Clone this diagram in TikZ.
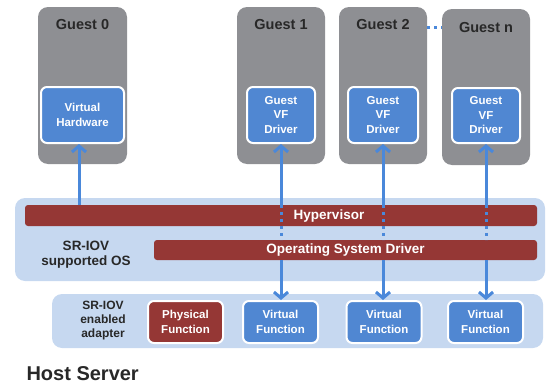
\documentclass[tikz,border=0pt]{standalone}
\usepackage{fontspec}
\setmainfont{Liberation Sans}
\usetikzlibrary{arrows.meta}
\definecolor{guestgray}{RGB}{142,143,147}
\definecolor{boxblue}{RGB}{80,135,210}
\definecolor{barred}{RGB}{149,55,53}
\definecolor{bandblue}{RGB}{198,216,240}
\definecolor{arrblue}{RGB}{74,136,218}
\definecolor{titledark}{RGB}{40,40,40}
\tikzset{
  guestbox/.style={fill=guestgray, draw=none, rounded corners=10pt, minimum width=88pt, minimum height=157pt, inner sep=0pt},
  innerbox/.style={fill=boxblue, draw=white, line width=2pt, rounded corners=6pt, inner sep=0pt, text=white, font=\bfseries\fontsize{11.5}{14.5}\selectfont, align=center},
  fnbox/.style={innerbox, minimum width=75pt, minimum height=42pt},
  band/.style={fill=bandblue, draw=none, rounded corners=10pt, inner sep=0pt},
  bar/.style={fill=barred, draw=none, rounded corners=3pt, inner sep=0pt},
  bartext/.style={text=white, font=\bfseries\fontsize{13.5}{15}\selectfont},
  title/.style={text=titledark, font=\bfseries\fontsize{14.5}{16}\selectfont},
  label/.style={text=titledark, font=\bfseries\fontsize{13.5}{15}\selectfont, align=center},
  conn/.style={draw=arrblue, line width=3pt},
  arrtip/.style={conn, -{Straight Barb[length=6pt,width=14pt]}},
  dotline/.style={draw=arrblue, line width=3pt, dash pattern=on 3pt off 4pt}
}
\begin{document}
\begin{tikzpicture}[x=1pt,y=-1pt]
\useasboundingbox (0,0) rectangle (547,383);
% guests
\node[guestbox, minimum width=89pt] (g0) at (82.5,85.5) {};
\node[guestbox] (g1) at (281,85.5) {};
\node[guestbox] (g2) at (383,85.5) {};
\node[guestbox, minimum height=156pt] (gn) at (486,87) {};
\node[title] (t0) at (82.5,25) {Guest 0};
\node[title] (t1) at (281,25) {Guest 1};
\node[title] (t2) at (383,25) {Guest 2};
\node[title] (tn) at (486,28) {Guest n};
\coordinate (dotA) at (427,27);
\coordinate (dotB) at (442,27);
\draw[dotline] (dotA) -- (dotB);
\node[innerbox, minimum width=83pt, minimum height=56pt] (vh) at (82.5,115) {Virtual\\Hardware};
\node[innerbox, minimum width=68pt, minimum height=56pt] (d1) at (281,115) {Guest\\VF\\Driver};
\node[innerbox, minimum width=70pt, minimum height=56pt] (d2) at (383,115) {Guest\\VF\\Driver};
\node[innerbox, minimum width=68pt, minimum height=55pt] (dn) at (486,115.5) {Guest\\VF\\Driver};
% OS band
\node[band, minimum width=530pt, minimum height=83pt] (osband) at (280,239.5) {};
\node[bar, minimum width=512pt, minimum height=21pt] (hyp) at (281,215.5) {};
\node[bartext] (hyptext) at (329,216) {Hypervisor};
\node[bar, minimum width=383pt, minimum height=20pt] (osd) at (345.5,250) {};
\node[bartext] (osdtext) at (345.5,250) {Operating System Driver};
\node[label] (oslabel) at (86,255) {SR-IOV\\supported OS};
% adapter band
\node[band, minimum width=491pt, minimum height=54pt] (adband) at (297.5,321) {};
\node[label, font=\bfseries\fontsize{12}{14}\selectfont] (adlabel) at (103,321) {SR-IOV\\enabled\\adapter};
\node[fnbox, fill=barred] (pf) at (185.5,322) {Physical\\Function};
\node[fnbox] (vf1) at (280.5,322) {Virtual\\Function};
\node[fnbox] (vf2) at (384,322) {Virtual\\Function};
\node[fnbox] (vf3) at (485.5,322) {Virtual\\Function};
% arrows
\coordinate (a0) at (79,205);
\draw[arrtip] (a0) -- (a0 |- vh.south);
\draw[arrtip] (d1.south |- hyp.north) -- (d1.south);
\draw[dotline] (d1.south |- hyp.north) -- (d1.south |- osd.north);
\draw[arrtip] (d1.south |- osd.south) -- (d1.south |- vf1.north);
\draw[arrtip] (d2.south |- hyp.north) -- (d2.south);
\draw[dotline] (d2.south |- hyp.north) -- (d2.south |- osd.north);
\draw[arrtip] (d2.south |- osd.south) -- (d2.south |- vf2.north);
\draw[arrtip] (dn.south |- hyp.north) -- (dn.south);
\draw[dotline] (dn.south |- hyp.north) -- (dn.south |- osd.north);
\draw[arrtip] (dn.south |- osd.south) -- (dn.south |- vf3.north);
\node[text=titledark, font=\bfseries\fontsize{20}{22}\selectfont, anchor=base west] (host) at (23,380) {Host Server};
\end{tikzpicture}
\end{document}
